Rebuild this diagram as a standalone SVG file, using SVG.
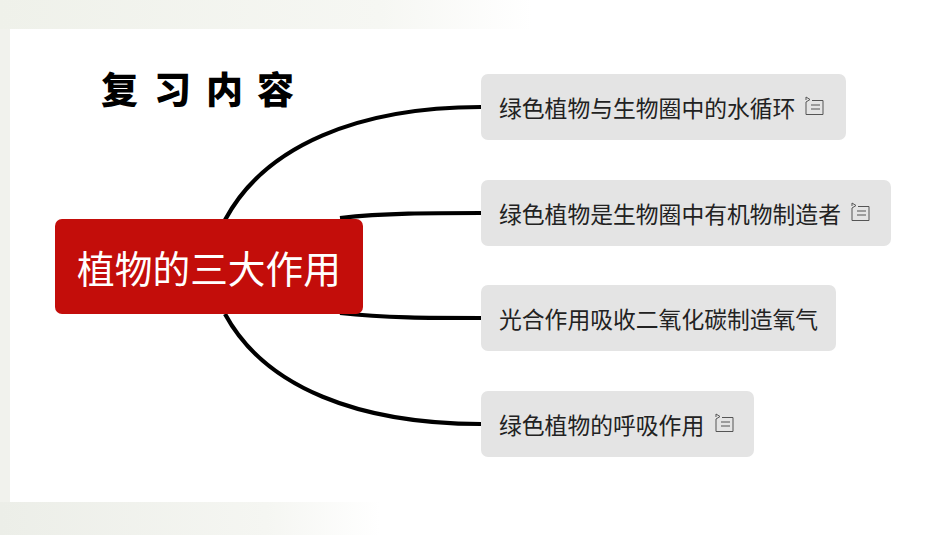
<svg xmlns="http://www.w3.org/2000/svg" width="950" height="535" viewBox="0 0 950 535">
<defs>
<style>
.n{fill:#e4e4e4}
.t{font-family:"Noto Sans CJK SC","Liberation Sans",sans-serif;font-size:22.800px;fill:#222}
.c{fill:none;stroke:#000;stroke-width:4.200}
.i{fill:none;stroke:#555;stroke-width:1}
.h{font-family:"Noto Sans CJK SC",serif;font-size:37px;font-weight:900;fill:#000}
</style>
<linearGradient id="tb" x1="0" x2="1" y1="0" y2="0"><stop offset="0" stop-color="#eff1ea"/><stop offset=".4" stop-color="#f6f7f3"/><stop offset=".56" stop-color="#fff"/></linearGradient>
<linearGradient id="bb" x1="0" x2="1" y1="0" y2="0"><stop offset="0" stop-color="#eceee8"/><stop offset=".28" stop-color="#f5f6f2"/><stop offset=".4" stop-color="#fff"/></linearGradient>
<g id="note"><path class="i" d="M1 3V0L5 2.500L1 5V17.500H18V3.500H7M6 8H15M6 12H15"/></g>
</defs>
<rect width="950" height="535" fill="#fff"/>
<rect width="950" height="29" fill="url(#tb)"/>
<rect y="502" width="950" height="33" fill="url(#bb)"/>
<rect y="29" width="10" height="473" fill="#f1f2ed"/>
<g id="title"><text class="h" x="101" y="104">复</text><text class="h" x="154" y="104">习</text><text class="h" x="206" y="104">内</text><text class="h" x="257" y="104">容</text></g>
<g id="connectors">
<path class="c" d="M225 220C265 145 360 107 481 107"/>
<path class="c" d="M340 218C385 213 430 213 481 213"/>
<path class="c" d="M340 313C385 318 430 318 481 318"/>
<path class="c" d="M225 314C265 388 360 424 481 424"/>
</g>
<g id="root"><rect x="55" y="219" width="308" height="95" rx="7" fill="#c30d0a"/><text x="209" y="283" text-anchor="middle" font-family="'Noto Sans CJK SC',sans-serif" font-size="37.700" fill="#fff">植物的三大作用</text></g>
<g id="n1"><rect class="n" x="481" y="74" width="365" height="66" rx="7"/><text class="t" x="499" y="117">绿色植物与生物圈中的水循环</text><use href="#note" x="805" y="97"/></g>
<g id="n2"><rect class="n" x="481" y="180" width="410" height="66" rx="7"/><text class="t" x="499" y="223">绿色植物是生物圈中有机物制造者</text><use href="#note" x="851" y="203"/></g>
<g id="n3"><rect class="n" x="481" y="285" width="355" height="66" rx="7"/><text class="t" x="499" y="328">光合作用吸收二氧化碳制造氧气</text></g>
<g id="n4"><rect class="n" x="481" y="391" width="273" height="66" rx="7"/><text class="t" x="499" y="434">绿色植物的呼吸作用</text><use href="#note" x="715" y="414"/></g>
</svg>
